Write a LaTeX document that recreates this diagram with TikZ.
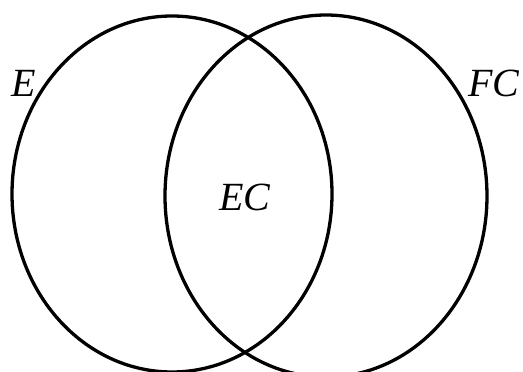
\documentclass[tikz,border=0pt]{standalone}
\usepackage{fontspec}
\setmainfont{Liberation Serif}
\usepackage{tikz}
\usetikzlibrary{positioning}

\begin{document}
\begin{tikzpicture}[
    x=1pt, y=-1pt,
    setline/.style={line width=3.3pt, black},
    setlabel/.style={inner sep=0pt, font=\fontsize{40}{46}\selectfont\itshape},
]

    % frame
    \useasboundingbox (0,0) rectangle (523,372);

    % the two sets
    \draw [setline] (172,194) ellipse [x radius=160, y radius=178];
    \draw [setline] (326,196) ellipse [x radius=161, y radius=181];

    % labels
    \node (lblE) [setlabel] at (24,83) {E};
    \node (lblFC) [setlabel] at (494,83) {FC};
    \node (lblEC) [setlabel] at (245,197) {EC};

\end{tikzpicture}
\end{document}
